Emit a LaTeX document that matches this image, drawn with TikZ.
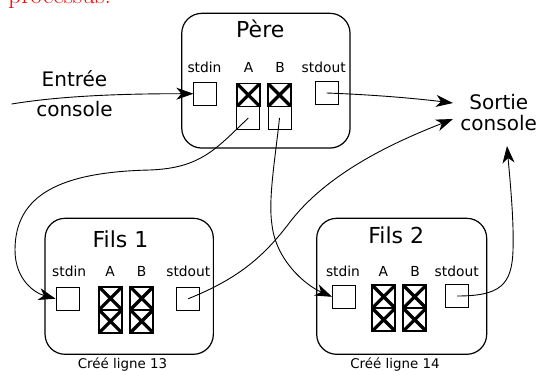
\documentclass[tikz,border=0pt]{standalone}
\usepackage{fontspec}
\usetikzlibrary{arrows.meta}
\newfontfamily\dejavu{DejaVu Sans}
\newcommand{\arw}{-{Stealth[length=17pt,width=12pt,inset=5pt]}}
\tikzset{
  proc/.style={draw, rounded corners=20pt, line width=1.2pt, inner sep=0pt},
  fd/.style={draw, minimum size=23pt, inner sep=0pt, line width=0.9pt},
  fdx/.style={fd, line width=1.5pt, path picture={
    \draw[line width=3.2pt] (path picture bounding box.south west) -- (path picture bounding box.north east)
      (path picture bounding box.north west) -- (path picture bounding box.south east);}},
  lbl/.style={font=\dejavu\fontsize{13.8}{16}\selectfont, anchor=base, inner sep=0pt},
  ttl/.style={font=\dejavu\fontsize{22}{24}\selectfont, anchor=base, inner sep=0pt},
  side/.style={font=\dejavu\fontsize{20}{22}\selectfont, anchor=base, inner sep=0pt},
  foot/.style={font=\dejavu\fontsize{13.4}{15}\selectfont, anchor=base, inner sep=0pt},
  flow/.style={\arw, line width=0.9pt}
}

\begin{document}
\begin{tikzpicture}[x=1pt,y=-1pt]
\useasboundingbox (0,0) rectangle (537,371);
\node[anchor=base west, inner sep=0pt, text=red, font=\fontsize{25.7}{30}\selectfont] (txt) at (8,3.5) {processus.};

%pere
\node[proc, minimum width=168.3pt, minimum height=134.7pt] (pere) at (265.9,80.7) {};
\node[ttl] (pere-t) at (260.3,38) {Père};
\node[lbl] (pere-l1) at (204.5,73) {stdin};
\node[lbl] (pere-l2) at (248.7,73) {A};
\node[lbl] (pere-l3) at (280,73) {B};
\node[lbl] (pere-l4) at (323.7,73) {stdout};
\node[fd] (p-in) at (205.3,93.7) {};
\node[fdx] (p-a) at (248.3,95) {};
\node[fd] (p-a2) at (248.3,118) {};
\node[fdx] (p-b) at (279.5,95) {};
\node[fd] (p-b2) at (279.5,118) {};
\node[fd] (p-out) at (326.7,93) {};

%fils 1
\node[proc, minimum width=168.3pt, minimum height=136pt] (fils1) at (129.2,286.3) {};
\node[ttl] (f1-t) at (120.5,247.7) {Fils 1};
\node[lbl] (f1-l1) at (69.2,276.7) {stdin};
\node[lbl] (f1-l2) at (110,276.7) {A};
\node[lbl] (f1-l3) at (141.7,276.7) {B};
\node[lbl] (f1-l4) at (188.3,276.7) {stdout};
\node[fd] (f1-in) at (67.5,298.7) {};
\node[fdx] (f1-a) at (110.5,298.3) {};
\node[fdx] (f1-a2) at (110.5,321.3) {};
\node[fdx] (f1-b) at (141.7,298.3) {};
\node[fdx] (f1-b2) at (141.7,321.3) {};
\node[fd] (f1-out) at (188.3,298.7) {};
\node[foot] (f1-c) at (122.5,368.5) {Créé ligne 13};

%fils 2
\node[proc, minimum width=170pt, minimum height=136pt] (fils2) at (401.7,286.3) {};
\node[ttl] (f2-t) at (396.2,243.3) {Fils 2};
\node[lbl] (f2-l1) at (343,276.7) {stdin};
\node[lbl] (f2-l2) at (383.3,276.7) {A};
\node[lbl] (f2-l3) at (415,276.7) {B};
\node[lbl] (f2-l4) at (456.7,276.7) {stdout};
\node[fd] (f2-in) at (344,296.8) {};
\node[fdx] (f2-a) at (383.7,296.7) {};
\node[fdx] (f2-a2) at (383.7,319.7) {};
\node[fdx] (f2-b) at (414.7,296.7) {};
\node[fdx] (f2-b2) at (414.7,319.7) {};
\node[fd] (f2-out) at (457.2,296) {};
\node[foot] (f2-c) at (395,368.5) {Créé ligne 14};

%console
\node[side] (ent1) at (74.5,86.7) {Entrée};
\node[side] (ent2) at (74.5,116.7) {console};
\node[side] (sor1) at (498.8,109.3) {Sortie};
\node[side] (sor2) at (498.7,131) {console};
\coordinate (ein) at (11.7,104);
\coordinate (so-a) at (453,103);
\coordinate (so-b) at (453,119);
\coordinate (so-c) at (507,146);

%flux
\draw[flow] (ein) .. controls (60,96) and (120,93.7) .. (p-in.west);
\draw[flow] (p-out.center) .. controls (380,95) and (420,99) .. (so-a);
\draw[flow] (f1-out.center) .. controls (240,278) and (265,255) .. (290,222)
  .. controls (330,170) and (400,140) .. (so-b);
\draw[flow] (f2-out.center) .. controls (500,296) and (512,285) .. (513,250)
  .. controls (514,220) and (510,180) .. (so-c);
\draw[flow] (p-a2.center) .. controls (215,150) and (200,168) .. (150,170)
  .. controls (60,172) and (15,195) .. (15,250)
  .. controls (15,280) and (35,293) .. (f1-in.west);
\draw[flow] (p-b2.center) .. controls (275,160) and (268,200) .. (272,225)
  .. controls (276,260) and (305,285) .. (f2-in.west);
\end{tikzpicture}
\end{document}
